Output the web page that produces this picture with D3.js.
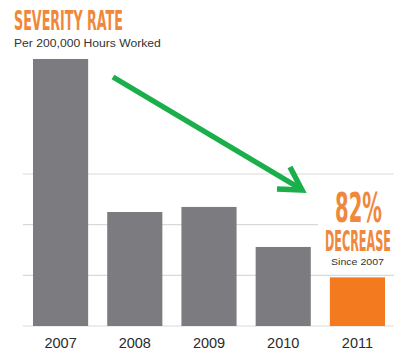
<!DOCTYPE html>
<html><head><meta charset="utf-8">
<script src="https://cdn.jsdelivr.net/npm/d3@7"></script>
<style>body{margin:0;background:#fff}svg{display:block}</style>
</head><body><svg id="c" width="394" height="351"></svg>
<script>
const years = ["2007","2008","2009","2010","2011"];
const rates = [52.7, 22.5, 23.5, 15.6, 9.6];
const gridTicks = [0, 10, 20, 30];
const title = "SEVERITY RATE";
const subtitle = "Per 200,000 Hours Worked";
const callout = ["82%", "DECREASE", "Since 2007"];

const svg = d3.select("#c");
const x = d3.scaleBand().domain(years).range([33, 385]).paddingInner(0.257).paddingOuter(0);
const y = d3.scaleLinear().domain([0, 30]).range([326, 174]);

// gridlines
svg.append("g").selectAll("line").data(gridTicks).join("line")
  .attr("x1", 23).attr("x2", 394)
  .attr("y1", d => y(d)).attr("y2", d => y(d))
  .attr("stroke", "#d9d9d9").attr("stroke-width", 1.2);

// white backing for callout
svg.append("rect").attr("x", 318).attr("y", 186).attr("width", 76).attr("height", 82).attr("fill", "#fff");

// bars
svg.append("g").selectAll("rect").data(rates).join("rect")
  .attr("x", (d, i) => x(years[i])).attr("width", x.bandwidth())
  .attr("y", d => y(d)).attr("height", d => y(0) - y(d))
  .attr("fill", (d, i) => i === years.length - 1 ? "#f47a20" : "#7c7b7f");

// x axis labels
const ax = svg.append("g").attr("transform", "translate(0,334)")
  .call(d3.axisBottom(x).tickSize(0).tickPadding(0));
ax.select(".domain").remove();
ax.selectAll("text").attr("font-family", "Liberation Sans, Arial, sans-serif")
  .attr("font-size", 14.5).attr("fill", "#2b2b2b").attr("dy", "0.95em");

// fitted text: scales horizontally to a target width
function fitText(str, x0, base, width, size, family, weight, fill) {
  const t = svg.append("text").attr("x", 0).attr("y", 0).text(str)
    .attr("font-family", family).attr("font-weight", weight)
    .attr("font-size", size).attr("fill", fill);
  const w = t.node().getComputedTextLength();
  t.attr("transform", `translate(${x0},${base}) scale(${width / w},1)`);
  return t;
}
const cond = "DejaVu Sans Condensed, Liberation Sans Narrow, sans-serif";
const sans = "Liberation Sans, Arial, sans-serif";
fitText(title, 14, 30, 109, 27, cond, "bold", "#f0883c");
fitText(subtitle, 14, 47, 147, 11, sans, "normal", "#333");
fitText(callout[0], 335, 222, 47, 40, cond, "bold", "#f0883c");
fitText(callout[1], 325, 251, 66, 27.5, cond, "bold", "#f0883c");
fitText(callout[2], 331, 265, 53, 9.5, sans, "normal", "#333");

// green arrow
const g = svg.append("g").attr("stroke", "#1aaf4b").attr("stroke-width", 5.5)
  .attr("fill", "none").attr("stroke-linecap", "butt").attr("stroke-linejoin", "miter");
g.append("line").attr("x1", 113).attr("y1", 77).attr("x2", 301).attr("y2", 189);
g.append("path").attr("d", "M290,167 L302,190 L277,189");
</script></body></html>
